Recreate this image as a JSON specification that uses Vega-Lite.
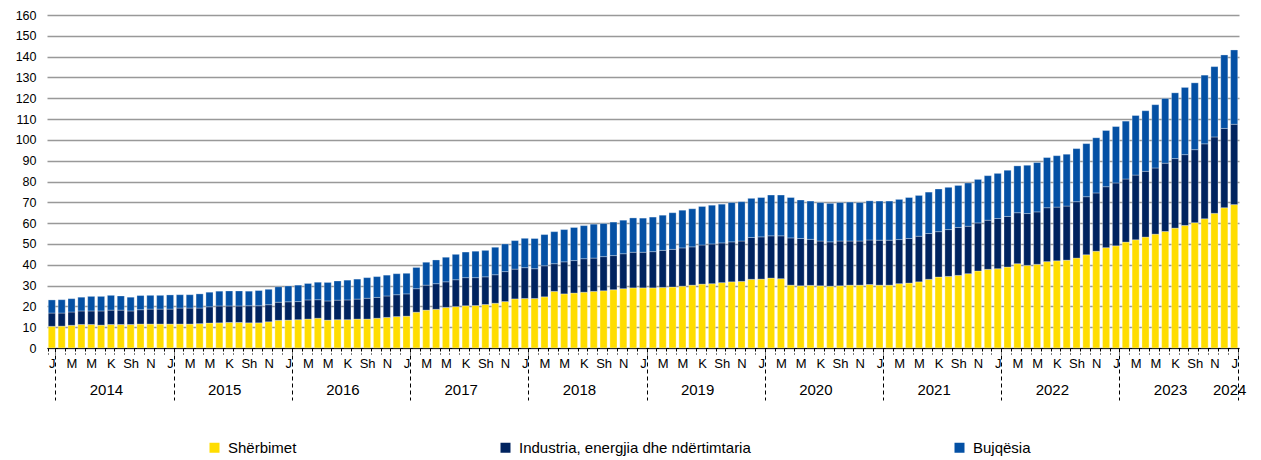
{
  "$schema": "https://vega.github.io/schema/vega-lite/v6.json",
  "width": 1192,
  "height": 333,
  "autosize": {"type": "none"},
  "padding": {"left": 47, "top": 15, "right": 22, "bottom": 112},
  "background": "white",
  "config": {
    "view": {"stroke": null},
    "font": "Liberation Sans",
    "axis": {"labelFont": "Liberation Sans", "labelColor": "#000000", "labelFontSize": 12},
    "legend": {"labelFont": "Liberation Sans"}
  },
  "data": {
    "values": [
      {"m": "2014-01", "s": 10.4, "i": 6.4, "b": 6.3},
      {"m": "2014-02", "s": 10.5, "i": 6.3, "b": 6.4},
      {"m": "2014-03", "s": 10.9, "i": 6.4, "b": 6.4},
      {"m": "2014-04", "s": 11.3, "i": 6.5, "b": 6.6},
      {"m": "2014-05", "s": 11.3, "i": 6.5, "b": 7.0},
      {"m": "2014-06", "s": 11.0, "i": 6.8, "b": 7.0},
      {"m": "2014-07", "s": 11.3, "i": 6.9, "b": 7.1},
      {"m": "2014-08", "s": 11.3, "i": 6.9, "b": 6.8},
      {"m": "2014-09", "s": 11.3, "i": 6.5, "b": 6.6},
      {"m": "2014-10", "s": 11.5, "i": 6.9, "b": 6.8},
      {"m": "2014-11", "s": 11.5, "i": 7.2, "b": 6.6},
      {"m": "2014-12", "s": 11.5, "i": 7.2, "b": 6.6},
      {"m": "2015-01", "s": 11.5, "i": 7.2, "b": 6.8},
      {"m": "2015-02", "s": 11.5, "i": 7.7, "b": 6.4},
      {"m": "2015-03", "s": 11.5, "i": 7.7, "b": 6.4},
      {"m": "2015-04", "s": 11.7, "i": 7.5, "b": 6.8},
      {"m": "2015-05", "s": 12.0, "i": 7.8, "b": 7.0},
      {"m": "2015-06", "s": 12.1, "i": 8.1, "b": 7.1},
      {"m": "2015-07", "s": 12.3, "i": 7.9, "b": 7.2},
      {"m": "2015-08", "s": 12.3, "i": 7.9, "b": 7.2},
      {"m": "2015-09", "s": 12.1, "i": 8.2, "b": 7.0},
      {"m": "2015-10", "s": 12.1, "i": 8.2, "b": 7.3},
      {"m": "2015-11", "s": 12.6, "i": 8.2, "b": 7.4},
      {"m": "2015-12", "s": 13.3, "i": 8.7, "b": 7.4},
      {"m": "2016-01", "s": 13.4, "i": 8.8, "b": 7.6},
      {"m": "2016-02", "s": 13.6, "i": 8.7, "b": 7.9},
      {"m": "2016-03", "s": 13.9, "i": 9.2, "b": 7.9},
      {"m": "2016-04", "s": 14.3, "i": 8.9, "b": 8.4},
      {"m": "2016-05", "s": 13.4, "i": 9.2, "b": 8.9},
      {"m": "2016-06", "s": 13.6, "i": 9.4, "b": 9.2},
      {"m": "2016-07", "s": 13.6, "i": 9.5, "b": 9.5},
      {"m": "2016-08", "s": 13.9, "i": 9.6, "b": 9.6},
      {"m": "2016-09", "s": 13.9, "i": 10.0, "b": 9.9},
      {"m": "2016-10", "s": 14.3, "i": 10.0, "b": 10.0},
      {"m": "2016-11", "s": 14.7, "i": 10.3, "b": 10.0},
      {"m": "2016-12", "s": 15.1, "i": 10.5, "b": 10.1},
      {"m": "2017-01", "s": 15.3, "i": 10.7, "b": 9.9},
      {"m": "2017-02", "s": 17.2, "i": 11.3, "b": 10.2},
      {"m": "2017-03", "s": 18.2, "i": 12.0, "b": 11.0},
      {"m": "2017-04", "s": 18.6, "i": 12.3, "b": 11.4},
      {"m": "2017-05", "s": 19.5, "i": 12.3, "b": 11.8},
      {"m": "2017-06", "s": 19.9, "i": 12.9, "b": 12.2},
      {"m": "2017-07", "s": 20.3, "i": 13.5, "b": 12.3},
      {"m": "2017-08", "s": 20.4, "i": 13.4, "b": 12.7},
      {"m": "2017-09", "s": 20.9, "i": 13.3, "b": 12.7},
      {"m": "2017-10", "s": 21.5, "i": 13.7, "b": 13.2},
      {"m": "2017-11", "s": 22.3, "i": 14.4, "b": 13.3},
      {"m": "2017-12", "s": 23.6, "i": 14.3, "b": 13.7},
      {"m": "2018-01", "s": 23.8, "i": 14.8, "b": 14.1},
      {"m": "2018-02", "s": 23.8, "i": 14.3, "b": 14.5},
      {"m": "2018-03", "s": 24.6, "i": 14.9, "b": 15.0},
      {"m": "2018-04", "s": 27.2, "i": 13.3, "b": 15.4},
      {"m": "2018-05", "s": 26.0, "i": 15.4, "b": 15.5},
      {"m": "2018-06", "s": 26.4, "i": 15.6, "b": 15.9},
      {"m": "2018-07", "s": 26.8, "i": 16.1, "b": 15.9},
      {"m": "2018-08", "s": 27.2, "i": 16.0, "b": 16.3},
      {"m": "2018-09", "s": 27.5, "i": 16.4, "b": 15.9},
      {"m": "2018-10", "s": 28.0, "i": 16.4, "b": 16.1},
      {"m": "2018-11", "s": 28.5, "i": 16.8, "b": 16.1},
      {"m": "2018-12", "s": 28.9, "i": 17.1, "b": 16.5},
      {"m": "2019-01", "s": 28.9, "i": 17.1, "b": 16.4},
      {"m": "2019-02", "s": 28.9, "i": 17.4, "b": 16.6},
      {"m": "2019-03", "s": 29.1, "i": 17.8, "b": 16.9},
      {"m": "2019-04", "s": 29.3, "i": 18.1, "b": 17.6},
      {"m": "2019-05", "s": 29.7, "i": 18.4, "b": 18.1},
      {"m": "2019-06", "s": 30.2, "i": 18.4, "b": 18.3},
      {"m": "2019-07", "s": 30.7, "i": 18.8, "b": 18.5},
      {"m": "2019-08", "s": 30.9, "i": 19.1, "b": 18.6},
      {"m": "2019-09", "s": 31.4, "i": 19.1, "b": 18.6},
      {"m": "2019-10", "s": 31.8, "i": 19.2, "b": 18.9},
      {"m": "2019-11", "s": 32.0, "i": 19.4, "b": 18.9},
      {"m": "2019-12", "s": 33.0, "i": 20.1, "b": 18.8},
      {"m": "2020-01", "s": 33.1, "i": 20.3, "b": 18.9},
      {"m": "2020-02", "s": 33.6, "i": 20.3, "b": 19.6},
      {"m": "2020-03", "s": 33.3, "i": 20.6, "b": 19.6},
      {"m": "2020-04", "s": 30.2, "i": 22.7, "b": 19.4},
      {"m": "2020-05", "s": 29.9, "i": 22.7, "b": 18.5},
      {"m": "2020-06", "s": 30.1, "i": 22.1, "b": 18.4},
      {"m": "2020-07", "s": 29.9, "i": 21.5, "b": 18.5},
      {"m": "2020-08", "s": 29.7, "i": 21.3, "b": 18.5},
      {"m": "2020-09", "s": 29.9, "i": 21.5, "b": 18.5},
      {"m": "2020-10", "s": 30.2, "i": 21.2, "b": 18.7},
      {"m": "2020-11", "s": 30.2, "i": 21.2, "b": 18.5},
      {"m": "2020-12", "s": 30.5, "i": 21.4, "b": 18.8},
      {"m": "2021-01", "s": 30.2, "i": 21.6, "b": 18.8},
      {"m": "2021-02", "s": 30.2, "i": 21.6, "b": 18.8},
      {"m": "2021-03", "s": 30.9, "i": 21.2, "b": 19.3},
      {"m": "2021-04", "s": 31.2, "i": 21.4, "b": 19.7},
      {"m": "2021-05", "s": 31.8, "i": 21.9, "b": 19.6},
      {"m": "2021-06", "s": 33.0, "i": 22.0, "b": 19.9},
      {"m": "2021-07", "s": 34.1, "i": 21.8, "b": 20.5},
      {"m": "2021-08", "s": 34.4, "i": 22.5, "b": 20.3},
      {"m": "2021-09", "s": 34.9, "i": 23.0, "b": 20.2},
      {"m": "2021-10", "s": 35.7, "i": 22.8, "b": 20.8},
      {"m": "2021-11", "s": 37.0, "i": 23.1, "b": 20.9},
      {"m": "2021-12", "s": 37.8, "i": 23.6, "b": 21.4},
      {"m": "2022-01", "s": 38.1, "i": 24.1, "b": 21.7},
      {"m": "2022-02", "s": 38.9, "i": 24.3, "b": 22.2},
      {"m": "2022-03", "s": 40.5, "i": 24.5, "b": 22.5},
      {"m": "2022-04", "s": 39.7, "i": 24.9, "b": 23.2},
      {"m": "2022-05", "s": 40.2, "i": 25.2, "b": 23.7},
      {"m": "2022-06", "s": 41.5, "i": 25.9, "b": 24.1},
      {"m": "2022-07", "s": 41.9, "i": 25.8, "b": 24.7},
      {"m": "2022-08", "s": 42.2, "i": 26.0, "b": 24.9},
      {"m": "2022-09", "s": 43.2, "i": 27.1, "b": 25.5},
      {"m": "2022-10", "s": 44.8, "i": 27.9, "b": 25.5},
      {"m": "2022-11", "s": 46.5, "i": 28.0, "b": 26.5},
      {"m": "2022-12", "s": 48.2, "i": 29.3, "b": 27.0},
      {"m": "2023-01", "s": 49.1, "i": 30.2, "b": 27.1},
      {"m": "2023-02", "s": 50.9, "i": 30.3, "b": 27.8},
      {"m": "2023-03", "s": 52.0, "i": 31.1, "b": 28.6},
      {"m": "2023-04", "s": 53.3, "i": 31.6, "b": 29.1},
      {"m": "2023-05", "s": 54.7, "i": 31.8, "b": 30.4},
      {"m": "2023-06", "s": 56.0, "i": 32.8, "b": 31.1},
      {"m": "2023-07", "s": 57.6, "i": 33.4, "b": 31.6},
      {"m": "2023-08", "s": 58.9, "i": 34.0, "b": 32.3},
      {"m": "2023-09", "s": 60.2, "i": 35.1, "b": 32.1},
      {"m": "2023-10", "s": 62.1, "i": 36.0, "b": 33.0},
      {"m": "2023-11", "s": 64.7, "i": 36.7, "b": 33.8},
      {"m": "2023-12", "s": 67.4, "i": 38.1, "b": 35.3},
      {"m": "2024-01", "s": 68.9, "i": 38.6, "b": 35.7}
    ]
  },
  "layer": [
    {
      "transform": [{"fold": ["s", "i", "b"], "as": ["key", "value"]}],
      "mark": {"type": "bar", "stroke": "#ffffff", "strokeWidth": 0.5, "strokeOpacity": 0.6},
      "encoding": {
        "x": {
          "field": "m",
          "type": "ordinal",
          "scale": {"paddingInner": 0.28, "paddingOuter": 0.13},
          "axis": {
            "title": null,
            "labelAngle": 0,
            "labelExpr": "substring(datum.value,5,7)=='01' ? 'J' : (substring(datum.value,5,7)=='03' || substring(datum.value,5,7)=='05') ? 'M' : substring(datum.value,5,7)=='07' ? 'K' : substring(datum.value,5,7)=='09' ? 'Sh' : substring(datum.value,5,7)=='11' ? 'N' : ''",
            "tickBand": "extent",
            "tickSize": 6,
            "tickColor": "#000000",
            "tickDash": [3, 2],
            "domainColor": "#000000",
            "labelPadding": 3,
            "labelFontSize": 13,
            "grid": false
          }
        },
        "y": {
          "field": "value",
          "type": "quantitative",
          "stack": "zero",
          "scale": {"domain": [0, 160], "nice": false},
          "axis": {
            "title": null,
            "values": [0, 10, 20, 30, 40, 50, 60, 70, 80, 90, 100, 110, 120, 130, 140, 150, 160],
            "grid": true,
            "gridColor": "#999999",
            "gridWidth": 1.5,
            "ticks": false,
            "domain": false,
            "labelPadding": 11,
            "labelFontSize": 12.5
          }
        },
        "color": {
          "field": "key",
          "type": "nominal",
          "scale": {"domain": ["s", "i", "b"], "range": ["#FFDD00", "#00235F", "#0450A4"]},
          "legend": {
            "title": null,
            "orient": "none",
            "legendX": 160,
            "legendY": 425,
            "direction": "horizontal",
            "symbolType": "square",
            "symbolSize": 100,
            "symbolStrokeWidth": 0,
            "labelFontSize": 15,
            "labelLimit": 500,
            "labelColor": "#000000",
            "columnPadding": 201,
            "labelOffset": 6,
            "labelExpr": "datum.label=='s' ? 'Shërbimet' : datum.label=='i' ? 'Industria, energjia dhe ndërtimtaria' : 'Bujqësia'"
          }
        },
        "order": {"field": "key", "sort": "descending"}
      }
    },
    {
      "mark": {"type": "point", "opacity": 0},
      "encoding": {
        "x": {
          "field": "m",
          "type": "ordinal",
          "axis": {
            "orient": "bottom",
            "title": null,
            "labelAngle": 0,
            "labelExpr": "(substring(datum.value,5,7)=='07' || datum.value=='2024-01') ? substring(datum.value,0,4) : ''",
            "tickBand": "extent",
            "tickSize": 52,
            "tickDash": [4, 3],
            "tickColor": "#000000",
            "tickOpacity": {"condition": {"test": "substring(datum.value,5,7)=='01'", "value": 1}, "value": 0},
            "domain": false,
            "labelPadding": -18,
            "labelOffset": -5,
            "labelFontSize": 15,
            "grid": false
          }
        }
      }
    }
  ],
  "resolve": {"axis": {"x": "independent"}}
}
